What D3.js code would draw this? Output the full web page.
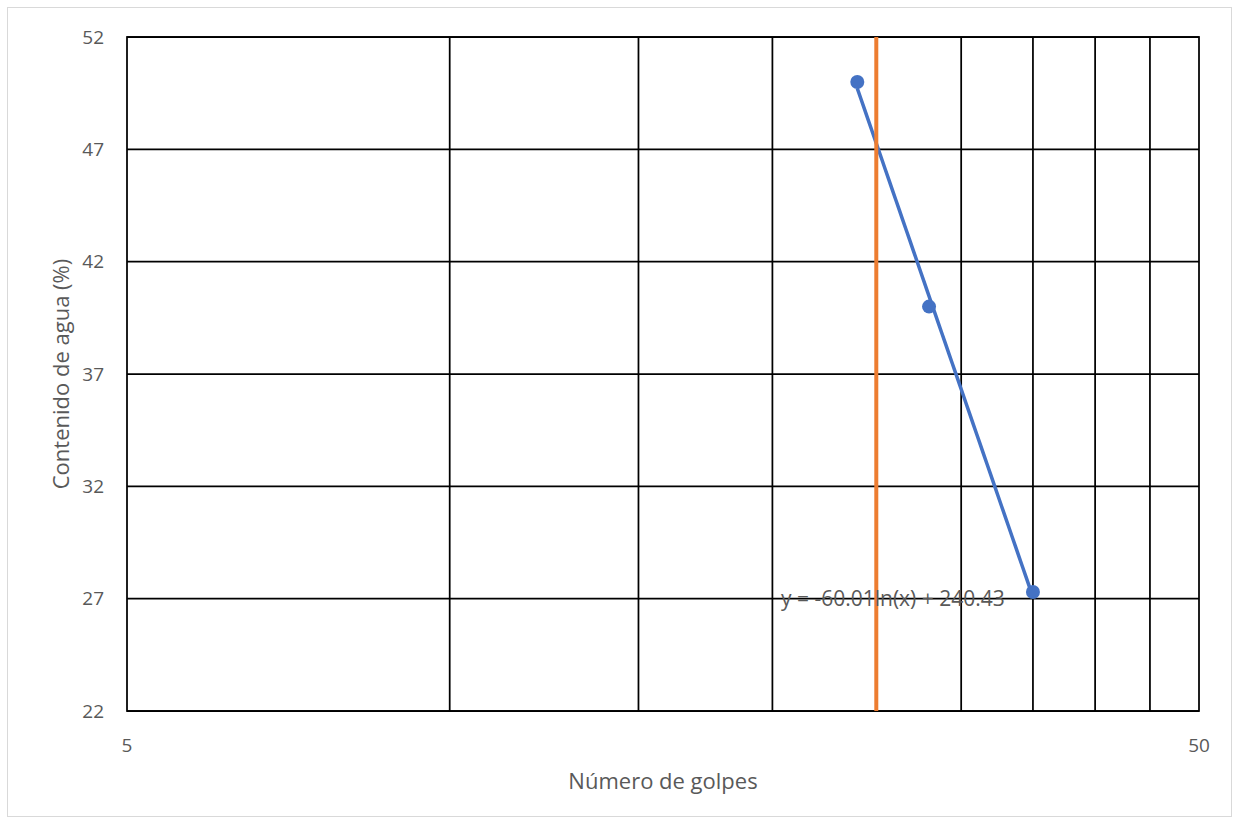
<!DOCTYPE html>
<html>
<head>
<meta charset="utf-8">
<script src="https://cdn.jsdelivr.net/npm/d3@7"></script>
<style>
  body { margin: 0; background: #fff; }
  text { font-family: "Open Sans", "Liberation Sans", sans-serif; }
</style>
</head>
<body>
<svg id="chart"></svg>
<script>
// Data
const golpes = [24, 28, 35];
const contenido = [50, 40, 27.3];
const xTickLabels = [5, 50];
const xGrid = [10, 15, 20, 25, 30, 35, 40, 45];
const yTicks = [22, 27, 32, 37, 42, 47, 52];
const trendA = -60.01;
const trendB = 240.43;
const limiteX = 25;

const width = 1239, height = 824;
const margin = { top: 37, right: 40, bottom: 113, left: 127 };
const w = width - margin.left - margin.right;
const h = height - margin.top - margin.bottom;

const svg = d3.select('#chart')
    .attr('width', width)
    .attr('height', height);

// Chart area border
svg.append('rect')
    .attr('x', 7.5).attr('y', 7.5)
    .attr('width', width - 15).attr('height', height - 15)
    .attr('fill', 'white')
    .attr('stroke', '#d9d9d9');

const g = svg.append('g')
    .attr('transform', `translate(${margin.left},${margin.top})`);

const x = d3.scaleLog().domain([5, 50]).range([0, w]);
const y = d3.scaleLinear().domain([22, 52]).range([h, 0]);

// Horizontal grid
g.selectAll('.hgrid')
    .data(yTicks)
  .join('line')
    .attr('class', 'hgrid')
    .attr('x1', 0).attr('x2', w)
    .attr('y1', d => y(d)).attr('y2', d => y(d))
    .attr('stroke', 'black')
    .attr('stroke-width', 1.75);

// Vertical grid
g.selectAll('.vgrid')
    .data(xGrid)
  .join('line')
    .attr('class', 'vgrid')
    .attr('x1', d => x(d)).attr('x2', d => x(d))
    .attr('y1', 0).attr('y2', h)
    .attr('stroke', 'black')
    .attr('stroke-width', 1.75);

// Plot border
g.append('rect')
    .attr('width', w).attr('height', h)
    .attr('fill', 'none')
    .attr('stroke', 'black')
    .attr('stroke-width', 1.75);

// Y tick labels
g.selectAll('.ylab')
    .data(yTicks)
  .join('text')
    .attr('class', 'ylab')
    .attr('x', -23)
    .attr('y', d => y(d))
    .attr('dy', '0.35em')
    .attr('text-anchor', 'end')
    .attr('font-size', 19)
    .attr('fill', '#595959')
    .text(d => d);

// X tick labels
g.selectAll('.xlab')
    .data(xTickLabels)
  .join('text')
    .attr('class', 'xlab')
    .attr('x', d => x(d))
    .attr('y', h + 41)
    .attr('text-anchor', 'middle')
    .attr('font-size', 19)
    .attr('fill', '#595959')
    .text(d => d);

// Axis titles
g.append('text')
    .attr('transform', `translate(-66,${h / 2}) rotate(-90)`)
    .attr('text-anchor', 'middle')
    .attr('dy', '0.35em')
    .attr('font-size', 22)
    .attr('fill', '#595959')
    .text('Contenido de agua (%)');

g.append('text')
    .attr('x', w / 2)
    .attr('y', h + 78)
    .attr('text-anchor', 'middle')
    .attr('font-size', 22)
    .attr('fill', '#595959')
    .text('Número de golpes');

// Trendline (log fit, straight on log x axis)
const ext = d3.extent(golpes);
const trend = d3.range(0, 51).map(i => {
  const xv = ext[0] * Math.pow(ext[1] / ext[0], i / 50);
  return [xv, trendA * Math.log(xv) + trendB];
});

g.append('path')
    .datum(trend)
    .attr('fill', 'none')
    .attr('stroke', '#4472c4')
    .attr('stroke-width', 3.5)
    .attr('d', d3.line().x(d => x(d[0])).y(d => y(d[1])));

// Points
g.selectAll('.pt')
    .data(golpes)
  .join('circle')
    .attr('class', 'pt')
    .attr('cx', d => x(d))
    .attr('cy', (d, i) => y(contenido[i]))
    .attr('r', 7)
    .attr('fill', '#4472c4');

// Limit line at 25 golpes
g.append('line')
    .attr('x1', x(limiteX)).attr('x2', x(limiteX))
    .attr('y1', 0).attr('y2', h)
    .attr('stroke', '#ed7d31')
    .attr('stroke-width', 4);

// Equation label
g.append('text')
    .attr('x', 781 - margin.left)
    .attr('y', y(27) + 7)
    .attr('font-size', 21)
    .attr('fill', '#595959')
    .text(`y = ${trendA.toFixed(2)}ln(x) + ${trendB.toFixed(2)}`);
</script>
</body>
</html>
